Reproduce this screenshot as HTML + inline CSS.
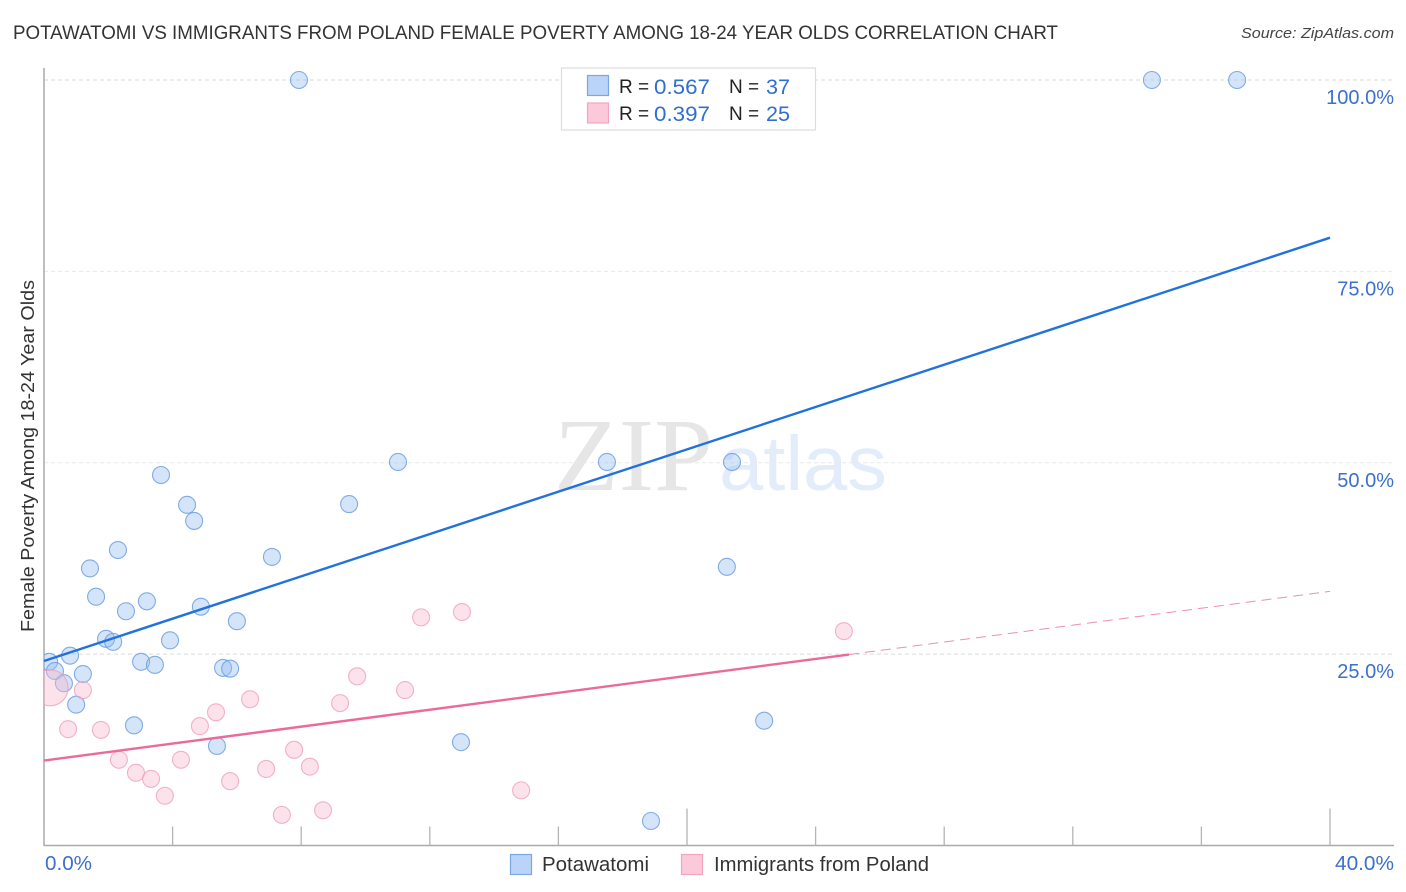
<!DOCTYPE html>
<html lang="en">
<head>
<meta charset="utf-8">
<title>Potawatomi vs Immigrants from Poland Female Poverty Chart</title>
<style>
html,body{margin:0;padding:0;background:#fff;width:1406px;height:892px;overflow:hidden}
svg{display:block;font-family:"Liberation Sans",sans-serif}
</style>
</head>
<body>
<svg id="chart" xmlns="http://www.w3.org/2000/svg" width="1406" height="892" viewBox="0 0 1406 892">
  <defs><clipPath id="plot-clip"><rect x="44" y="60" width="1350" height="785"/></clipPath></defs>
  <rect width="1406" height="892" fill="#fff"/>
  <text x="13" y="39" font-size="19.5" fill="#333" textLength="1045" lengthAdjust="spacingAndGlyphs">POTAWATOMI VS IMMIGRANTS FROM POLAND FEMALE POVERTY AMONG 18-24 YEAR OLDS CORRELATION CHART</text>
  <text x="1394" y="38" font-size="15" font-style="italic" fill="#444" text-anchor="end" textLength="153" lengthAdjust="spacingAndGlyphs">Source: ZipAtlas.com</text>
  <g>
    <text x="554" y="490" font-family="'Liberation Serif',serif" font-size="104" fill="#e6e6e6" textLength="159" lengthAdjust="spacingAndGlyphs">ZIP</text>
    <text x="719" y="490" font-size="77" fill="#e2ecfa" textLength="168" lengthAdjust="spacingAndGlyphs">atlas</text>
  </g>
  <g id="grid"></g>
  <g id="axes"></g>
  <g id="points" clip-path="url(#plot-clip)"></g>
  <g id="trends"></g>
  <text transform="translate(34 456) rotate(-90)" font-size="18.5" fill="#333" text-anchor="middle" textLength="352" lengthAdjust="spacingAndGlyphs">Female Poverty Among 18-24 Year Olds</text>
  <g>
    <rect x="561.5" y="68" width="254" height="62" fill="#fff" fill-opacity="0.9" stroke="#ddd" stroke-width="1.2"/>
    <rect x="587.5" y="75.5" width="21" height="20" fill="#b9d4f7" stroke="#7aa8e0" stroke-width="1.2"/>
    <rect x="587.5" y="103" width="21" height="20" fill="#fcc9da" stroke="#f2a5bf" stroke-width="1.2"/>
    <text x="619" y="93" font-size="19" fill="#222">R =</text>
    <text x="654" y="94" font-size="21" fill="#2f6fce" textLength="56" lengthAdjust="spacingAndGlyphs">0.567</text>
    <text x="729" y="93" font-size="19" fill="#222">N =</text>
    <text x="766" y="94" font-size="21" fill="#2f6fce" textLength="24" lengthAdjust="spacingAndGlyphs">37</text>
    <text x="619" y="120" font-size="19" fill="#222">R =</text>
    <text x="654" y="121" font-size="21" fill="#2f6fce" textLength="56" lengthAdjust="spacingAndGlyphs">0.397</text>
    <text x="729" y="120" font-size="19" fill="#222">N =</text>
    <text x="766" y="121" font-size="21" fill="#2f6fce" textLength="24" lengthAdjust="spacingAndGlyphs">25</text>
  </g>
  <g>
    <rect x="510.5" y="854.5" width="21" height="20" fill="#b9d4f7" stroke="#7aa8e0" stroke-width="1.2"/>
    <text x="542" y="871" font-size="20" fill="#333" textLength="107" lengthAdjust="spacingAndGlyphs">Potawatomi</text>
    <rect x="681.5" y="854.5" width="21" height="20" fill="#fcc9da" stroke="#f2a5bf" stroke-width="1.2"/>
    <text x="714" y="871" font-size="20" fill="#333" textLength="215" lengthAdjust="spacingAndGlyphs">Immigrants from Poland</text>
  </g>
</svg>
<script>
const yTickValues = [25, 50, 75, 100];
const yTickLabels = ["25.0%", "50.0%", "75.0%", "100.0%"];
const xTickValues = [0, 4, 8, 12, 16, 20, 24, 28, 32, 36, 40];
const xMajorTicks = [20, 40];
const xEndLabels = ["0.0%", "40.0%"];
const xEndValues = [0, 40];

const potawatomiX = [7.93,34.46,37.11,3.64,4.45,4.67,9.49,11.01,17.51,21.40,2.30,1.43,1.62,7.09,21.24,2.55,3.20,4.88,6.00,1.93,2.15,3.92,0.81,0.16,0.34,1.21,0.62,1.00,3.02,3.45,5.57,5.79,2.80,5.38,12.97,22.40,18.88];
const potawatomiY = [100,100,100,48.4,44.5,42.4,44.6,50.1,50.1,50.1,38.6,36.2,32.5,37.7,36.4,30.6,31.9,31.2,29.3,27.0,26.6,26.8,24.8,24.0,22.8,22.4,21.2,18.4,24.0,23.6,23.2,23.1,15.7,13.0,13.5,16.3,3.2];

const polandX = [0.19,1.21,0.75,1.77,2.33,2.86,3.33,3.76,4.26,4.85,5.35,5.79,6.41,6.91,7.40,7.78,8.27,8.68,9.21,9.74,11.23,11.73,13.0,14.84,24.88];
const polandY = [20.6,20.3,15.2,15.1,11.2,9.5,8.7,6.5,11.2,15.6,17.4,8.4,19.1,10.0,4.0,12.5,10.3,4.6,18.6,22.1,20.3,29.8,30.5,7.2,28.0];
const polandWeight = [4.5,1,1,1,1,1,1,1,1,1,1,1,1,1,1,1,1,1,1,1,1,1,1,1,1];

const potawatomiTrendX = [0, 40];
const potawatomiTrendY = [24.1, 79.4];
const polandTrendX = [0, 25.04];
const polandTrendY = [11.1, 24.95];
const polandDashX = [25.04, 40];
const polandDashY = [24.95, 33.2];

const NS = "http://www.w3.org/2000/svg";
function xScale(v) { return 44 + v * 32.15; }
function yScale(v) { return 845.5 - v * 7.655; }
function mk(tag, attrs, parent) {
  const e = document.createElementNS(NS, tag);
  for (const k in attrs) e.setAttribute(k, attrs[k]);
  parent.appendChild(e);
  return e;
}
const grid = document.getElementById("grid");
const axes = document.getElementById("axes");
const points = document.getElementById("points");
const trends = document.getElementById("trends");

yTickValues.forEach(function (v, i) {
  const faint = (i === 1 || i === 2);
  const gl = mk("line", {x1: 44, x2: 1394, y1: yScale(v), y2: yScale(v), stroke: faint ? "#e9e9e9" : "#dadada", "stroke-width": 1, "stroke-dasharray": "4 3"}, grid);
  
  
  const t = mk("text", {x: 1394, y: yScale(v) + 24, "font-size": 20, fill: "#3b70cc", "text-anchor": "end"}, axes);
  t.textContent = yTickLabels[i];
  
  
});

const yAxis = mk("line", {x1: 44, x2: 44, y1: 68, y2: 846, stroke: "#aaa", "stroke-width": 1.5}, axes);


const xAxis = mk("line", {x1: 44, x2: 1394, y1: 845.5, y2: 845.5, stroke: "#aaa", "stroke-width": 1.5}, axes);



xTickValues.forEach(function (v) {
  const len = xMajorTicks.indexOf(v) >= 0 ? 37 : 19;
  const tk = mk("line", {x1: xScale(v), x2: xScale(v), y1: 845.5 - len, y2: 845.5, stroke: "#b4b4b4", "stroke-width": 1.3}, axes);
  
  
});

xEndValues.forEach(function (v, i) {
  const t = mk("text", {x: i === 0 ? xScale(v) + 1 : 1394, y: 870, "font-size": 20, fill: "#3b70cc", "text-anchor": i === 0 ? "start" : "end", textLength: i === 0 ? 47 : 59, lengthAdjust: "spacingAndGlyphs"}, axes);
  t.textContent = xEndLabels[i];
  
  
});

potawatomiX.forEach(function (v, i) {
  const c = mk("circle", {cx: xScale(v), cy: yScale(potawatomiY[i]), r: 8.5, fill: "#93bbf0", "fill-opacity": 0.4, stroke: "#6f9fe0", "stroke-opacity": 0.85, "stroke-width": 1.1}, points);
  
  
});
polandX.forEach(function (v, i) {
  const c = mk("circle", {cx: xScale(v), cy: yScale(polandY[i]), r: 8.5 * Math.sqrt(polandWeight[i]), fill: "#f9b9cf", "fill-opacity": 0.42, stroke: "#f09ab8", "stroke-opacity": 0.75, "stroke-width": 1.1}, points);
  
  
});

const blueLine = mk("line", {x1: xScale(potawatomiTrendX[0]), y1: yScale(potawatomiTrendY[0]), x2: xScale(potawatomiTrendX[1]), y2: yScale(potawatomiTrendY[1]), stroke: "#2272dc", "stroke-width": 2.4}, trends);


const pinkLine = mk("line", {x1: xScale(polandTrendX[0]), y1: yScale(polandTrendY[0]), x2: xScale(polandTrendX[1]), y2: yScale(polandTrendY[1]), stroke: "#ec6a9a", "stroke-width": 2.4}, trends);


const pinkDash = mk("line", {x1: xScale(polandDashX[0]), y1: yScale(polandDashY[0]), x2: xScale(polandDashX[1]), y2: yScale(polandDashY[1]), stroke: "#ec8fb0", "stroke-width": 1, "stroke-dasharray": "10 6"}, trends);


</script>
</body>
</html>
